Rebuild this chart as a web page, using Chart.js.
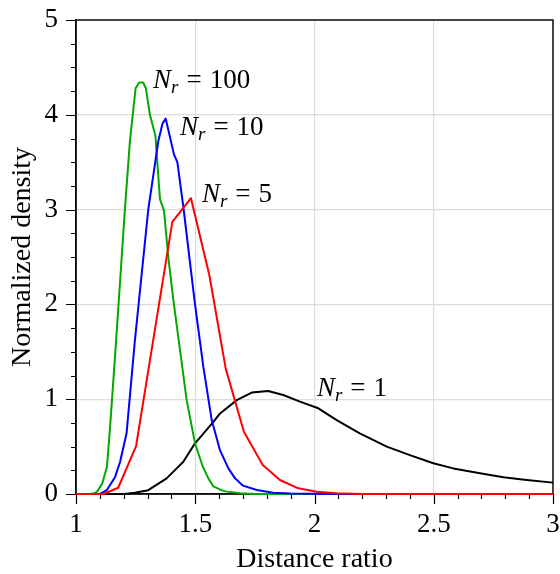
<!DOCTYPE html>
<html><head><meta charset="utf-8">
<script src="https://cdn.jsdelivr.net/npm/chart.js@4.4.1/dist/chart.umd.min.js"></script>
<style>html,body{margin:0;padding:0;background:#fff;}</style>
</head><body>
<canvas id="c" width="560" height="574"></canvas>
<script>
// ---- data ----
const xMin = 1, xMax = 3, yMin = 0, yMax = 5;
const xMajorStep = 0.5, xMinorStep = 0.1;
const yMajorStep = 1, yMinorStep = 0.25;

const nr1X = [1.0, 1.2, 1.247, 1.303, 1.38, 1.45, 1.499, 1.576, 1.604, 1.674, 1.737, 1.806, 1.869, 1.939, 2.016, 2.093, 2.19, 2.303, 2.40, 2.498, 2.582, 2.694, 2.792, 2.89, 3.0];
const nr1Y = [0, 0, 0.014, 0.04, 0.165, 0.34, 0.535, 0.76, 0.85, 0.99, 1.07, 1.087, 1.044, 0.974, 0.904, 0.78, 0.64, 0.5, 0.41, 0.324, 0.27, 0.218, 0.176, 0.148, 0.12];

const nr5X = [1.0, 1.115, 1.177, 1.252, 1.328, 1.404, 1.482, 1.559, 1.628, 1.704, 1.783, 1.855, 1.932, 2.009, 2.093, 2.2, 3.0];
const nr5Y = [0, 0, 0.066, 0.506, 1.69, 2.87, 3.12, 2.31, 1.32, 0.657, 0.306, 0.148, 0.06, 0.024, 0.007, 0, 0];

const nr10X = [1.0, 1.10, 1.129, 1.164, 1.185, 1.212, 1.247, 1.303, 1.345, 1.363, 1.376, 1.411, 1.425, 1.45, 1.499, 1.534, 1.569, 1.604, 1.639, 1.667, 1.70, 1.758, 1.827, 1.9, 2.1, 3.0];
const nr10Y = [0, 0, 0.04, 0.18, 0.34, 0.64, 1.62, 3.0, 3.72, 3.91, 3.96, 3.58, 3.50, 3.03, 2.0, 1.34, 0.78, 0.46, 0.27, 0.165, 0.088, 0.042, 0.014, 0.005, 0, 0];

const nr100X = [1.0, 1.06, 1.08, 1.09, 1.11, 1.13, 1.143, 1.165, 1.205, 1.226, 1.25, 1.265, 1.282, 1.293, 1.31, 1.333, 1.352, 1.369, 1.387, 1.408, 1.436, 1.464, 1.499, 1.53, 1.555, 1.576, 1.61, 1.632, 1.69, 1.75, 3.0];
const nr100Y = [0, 0, 0.01, 0.03, 0.11, 0.29, 0.71, 1.5, 3.0, 3.72, 4.28, 4.34, 4.34, 4.28, 4.0, 3.78, 3.11, 2.99, 2.5, 2.05, 1.52, 0.99, 0.535, 0.3, 0.165, 0.08, 0.04, 0.025, 0.007, 0, 0];

const seriesNames = ['1', '5', '10', '100'];
// label anchors (data coords, left/baseline)
const labelX = [2.01, 1.528, 1.436, 1.323];
const labelY = [1.034, 3.08, 3.79, 4.28];

const xTitle = 'Distance ratio';
const yTitle = 'Normalized density';

// ---- helpers ----
const pts = (xs, ys) => xs.map((x, i) => ({x: x, y: ys[i]}));
const isMult = (v, s) => Math.abs(v / s - Math.round(v / s)) < 1e-6;
const SERIF = '"Liberation Serif", "Times New Roman", serif';
const zeroPad = s => { s.paddingTop = 0; s.paddingBottom = 0; s.paddingLeft = 0; s.paddingRight = 0; };

const frameTicks = {
  id: 'frameTicks',
  beforeDatasetsDraw(chart) {
    const {ctx, chartArea: a, scales: {x, y}} = chart;
    ctx.save();
    ctx.strokeStyle = '#000';
    ctx.lineWidth = 1.2;
    ctx.beginPath();
    x.ticks.forEach(t => {
      const px = Math.round(x.getPixelForValue(t.value)) + 0.5;
      const L = isMult(t.value, xMajorStep) ? 10 : 5;
      ctx.moveTo(px, a.bottom); ctx.lineTo(px, a.bottom + L);
    });
    y.ticks.forEach(t => {
      const py = Math.round(y.getPixelForValue(t.value)) + 0.5;
      const L = isMult(t.value, yMajorStep) ? 10 : 5;
      ctx.moveTo(a.left - L, py); ctx.lineTo(a.left, py);
    });
    ctx.stroke();
    ctx.lineWidth = 1.5;
    ctx.strokeStyle = '#111';
    ctx.strokeRect(a.left, a.top, a.right - a.left, a.bottom - a.top);
    ctx.restore();
  },
  afterDatasetsDraw(chart) {
    const {ctx, scales: {x, y}} = chart;
    ctx.save();
    ctx.fillStyle = '#000';
    ctx.textBaseline = 'alphabetic';
    ctx.textAlign = 'left';
    seriesNames.forEach((n, i) => {
      let px = x.getPixelForValue(labelX[i]);
      const py = y.getPixelForValue(labelY[i]);
      ctx.font = 'italic 27px ' + SERIF;
      ctx.fillText('N', px, py);
      px += ctx.measureText('N').width;
      ctx.font = 'italic 19px ' + SERIF;
      ctx.fillText('r', px, py + 5);
      px += ctx.measureText('r').width + 8;
      ctx.font = '27px ' + SERIF;
      ctx.fillText('=', px, py);
      px += ctx.measureText('=').width + 8;
      ctx.fillText(n, px, py);
    });
    ctx.restore();
  }
};

new Chart(document.getElementById('c'), {
  type: 'scatter',
  data: {
    datasets: [
      {label: 'N_r = 5', data: pts(nr5X, nr5Y), borderColor: '#ff0000'},
      {label: 'N_r = 10', data: pts(nr10X, nr10Y), borderColor: '#0000ff'},
      {label: 'N_r = 100', data: pts(nr100X, nr100Y), borderColor: '#00aa00'},
      {label: 'N_r = 1', data: pts(nr1X, nr1Y), borderColor: '#000000'}
    ].map(d => Object.assign(d, {showLine: true, borderWidth: 2, pointRadius: 0, pointHoverRadius: 0, tension: 0, clip: false, borderJoinStyle: 'round'}))
  },
  options: {
    responsive: false,
    animation: false,
    devicePixelRatio: 1,
    events: [],
    layout: {padding: {left: 0, right: 7, top: 20, bottom: 0}},
    plugins: {legend: {display: false}, tooltip: {enabled: false}},
    scales: {
      x: {
        type: 'linear', min: xMin, max: xMax,
        afterFit: s => { s.height = 80; zeroPad(s); },
        border: {display: true, color: '#000', width: 1.5},
        grid: {
          drawTicks: true, tickLength: 10,
          color: c => isMult(c.tick.value, xMajorStep) ? '#dcdcdc' : 'rgba(0,0,0,0)',
          tickColor: 'rgba(0,0,0,0)', lineWidth: 1.2
        },
        ticks: {
          stepSize: xMinorStep, autoSkip: false, maxRotation: 0, padding: 5,
          color: '#000', font: {family: SERIF, size: 27},
          callback: v => isMult(v, xMajorStep) ? String(+v.toFixed(2)) : ''
        },
        title: {display: true, text: xTitle, color: '#000', font: {family: SERIF, size: 28}, padding: {top: 0, bottom: -2}}
      },
      y: {
        type: 'linear', min: yMin, max: yMax,
        afterFit: s => { s.width = 76; zeroPad(s); },
        border: {display: true, color: '#000', width: 1.5},
        grid: {
          drawTicks: true, tickLength: 10,
          color: c => isMult(c.tick.value, yMajorStep) ? '#dcdcdc' : 'rgba(0,0,0,0)',
          tickColor: 'rgba(0,0,0,0)', lineWidth: 1.2
        },
        ticks: {
          stepSize: yMinorStep, autoSkip: false, padding: 8,
          color: '#000', font: {family: SERIF, size: 27},
          callback: v => isMult(v, yMajorStep) ? String(Math.round(v)) : ''
        },
        title: {display: true, text: yTitle, color: '#000', font: {family: SERIF, size: 28}, padding: {top: 6, bottom: 0}}
      }
    }
  },
  plugins: [frameTicks]
});
</script>
</body></html>
